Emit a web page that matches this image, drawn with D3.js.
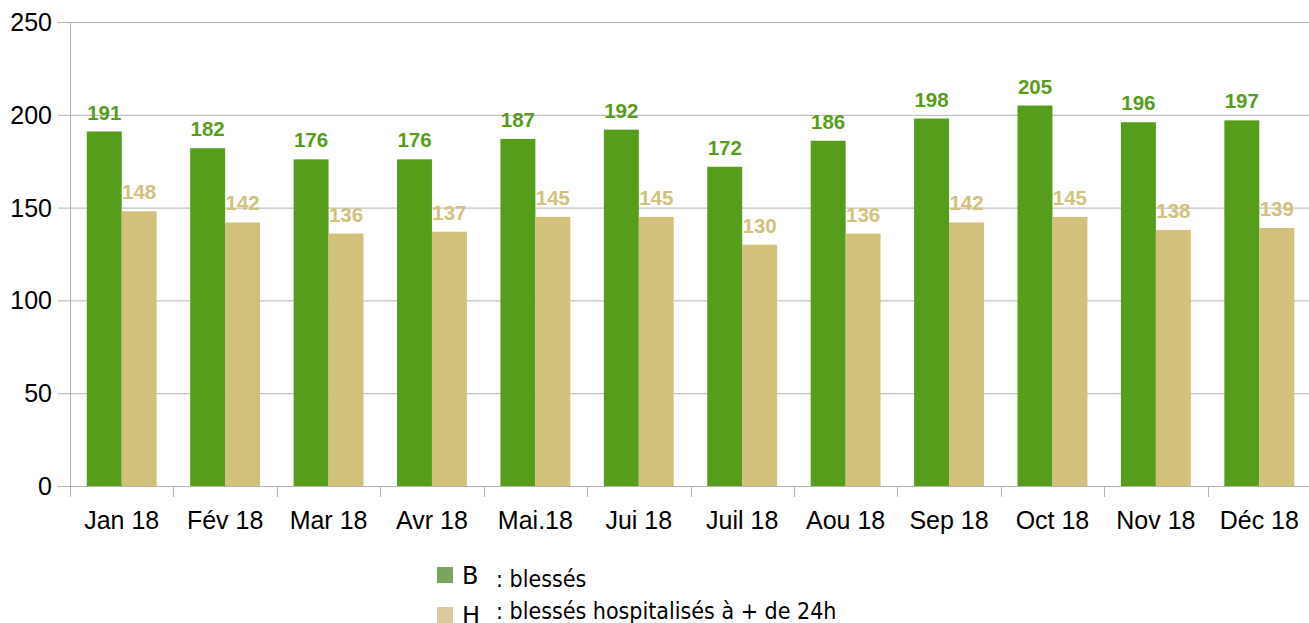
<!DOCTYPE html>
<html>
<head>
<meta charset="utf-8">
<script src="https://cdn.jsdelivr.net/npm/d3@7"></script>
<style>
  body { margin: 0; background: #fff; }
  svg { display: block; font-family: "Liberation Sans", Arial, sans-serif; }
</style>
</head>
<body>
<script>
// data
const months = ['Jan 18', 'Fév 18', 'Mar 18', 'Avr 18', 'Mai.18', 'Jui 18', 'Juil 18', 'Aou 18', 'Sep 18', 'Oct 18', 'Nov 18', 'Déc 18'];
const blesses = [191, 182, 176, 176, 187, 192, 172, 186, 198, 205, 196, 197];
const hospitalises = [148, 142, 136, 137, 145, 145, 130, 136, 142, 145, 138, 139];
const yTicks = [0, 50, 100, 150, 200, 250];
const legendKeys = ['B', 'H'];
const legendTexts = [': blessés', ': blessés hospitalisés à + de 24h'];

const W = 1309, H = 623;
const margin = {left: 70, right: -2, top: 22, bottom: 137};

const svg = d3.select('body').append('svg')
    .attr('width', W)
    .attr('height', H);

const x = d3.scaleBand()
    .domain(months)
    .range([margin.left, W - margin.right])
    .paddingInner(0)
    .paddingOuter(0);

const inner = d3.scaleBand()
    .domain([0, 1])
    .range([0, x.bandwidth()])
    .paddingInner(0)
    .paddingOuter(0.48);

const y = d3.scaleLinear()
    .domain([0, 250])
    .range([H - margin.bottom, margin.top]);

// grid
svg.append('g')
    .selectAll('line')
    .data(yTicks)
    .enter()
    .append('line')
    .attr('x1', margin.left - 12)
    .attr('x2', W)
    .attr('y1', d => y(d) + 0.5)
    .attr('y2', d => y(d) + 0.5)
    .attr('stroke', '#b3b3b3')
    .attr('stroke-width', 1);

// y axis line
svg.append('line')
    .attr('x1', margin.left + 0.5).attr('x2', margin.left + 0.5)
    .attr('y1', y(250)).attr('y2', y(0) + 11)
    .attr('stroke', '#b3b3b3');

// x ticks
svg.append('g')
    .selectAll('line')
    .data(months.slice(1))
    .enter()
    .append('line')
    .attr('x1', d => Math.round(x(d)) + 0.5)
    .attr('x2', d => Math.round(x(d)) + 0.5)
    .attr('y1', y(0))
    .attr('y2', y(0) + 11)
    .attr('stroke', '#b3b3b3');

// y labels
svg.append('g')
    .selectAll('text')
    .data(yTicks)
    .enter()
    .append('text')
    .attr('x', 52)
    .attr('y', d => y(d) + 9)
    .attr('text-anchor', 'end')
    .attr('font-size', 25)
    .attr('fill', '#000')
    .text(d => d);

// x labels
svg.append('g')
    .selectAll('text')
    .data(months)
    .enter()
    .append('text')
    .attr('x', d => x(d) + x.bandwidth() / 2)
    .attr('y', 529)
    .attr('text-anchor', 'middle')
    .attr('font-size', 25)
    .attr('fill', '#000')
    .text(d => d);

const series = [
  {values: blesses, color: '#579d1c', label: '#579d1c'},
  {values: hospitalises, color: '#d2c17b', label: '#d2c17b'}
];

series.forEach((s, si) => {
  const g = svg.append('g');
  g.selectAll('rect')
      .data(s.values)
      .enter()
      .append('rect')
      .attr('x', (d, i) => x(months[i]) + inner(si))
      .attr('y', d => y(d))
      .attr('width', inner.bandwidth())
      .attr('height', d => y(0) - y(d))
      .attr('fill', s.color);

  g.selectAll('text')
      .data(s.values)
      .enter()
      .append('text')
      .attr('x', (d, i) => x(months[i]) + inner(si) + inner.bandwidth() / 2)
      .attr('y', d => y(d) - 12)
      .attr('text-anchor', 'middle')
      .attr('font-size', 20.5)
      .attr('font-weight', 'bold')
      .attr('fill', s.label)
      .text(d => d);
});

// legend
const legendColors = ['#7aa35e', '#dccba0'];
const leg = svg.append('g');
legendKeys.forEach((k, i) => {
  const ly = 567 + i * 40;
  leg.append('rect')
      .attr('x', 437).attr('y', ly)
      .attr('width', 16).attr('height', 16)
      .attr('fill', legendColors[i]);
  leg.append('text')
      .attr('x', 462).attr('y', i === 0 ? 584 : 624)
      .attr('font-family', '"DejaVu Sans", sans-serif')
      .attr('font-size', 24)
      .attr('fill', '#000')
      .text(k);
  leg.append('text')
      .attr('x', 496).attr('y', i === 0 ? 587 : 619)
      .attr('font-family', '"DejaVu Sans Condensed", "DejaVu Sans", sans-serif')
      .attr('font-stretch', 'condensed')
      .attr('font-size', 23)
      .attr('fill', '#000')
      .text(legendTexts[i]);
});
</script>
</body>
</html>
